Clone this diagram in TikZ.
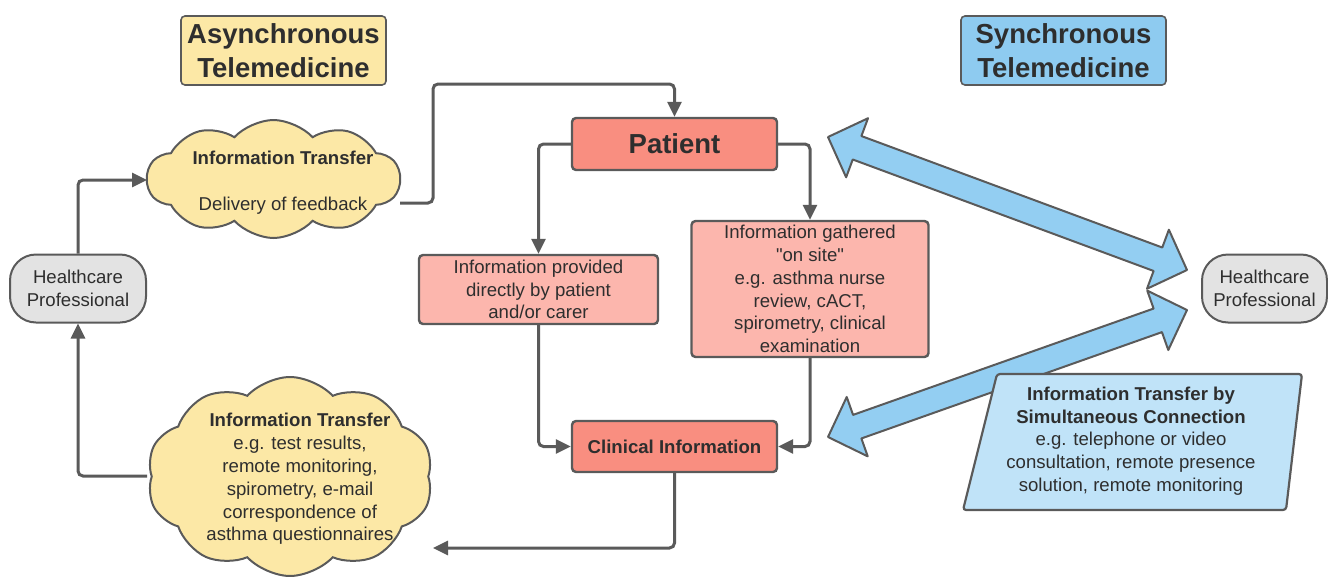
\documentclass[tikz,border=0pt]{standalone}
\usepackage{fontspec}
\setmainfont{Liberation Sans}
\usetikzlibrary{arrows.meta,shapes.symbols,calc}
\definecolor{ln}{HTML}{5A5A5A}
\definecolor{txt}{HTML}{2E2E2E}
\definecolor{ylw}{HTML}{FCE8A6}
\definecolor{bluet}{HTML}{8ECBF0}
\definecolor{bluear}{HTML}{93CEF2}
\definecolor{bluep}{HTML}{C0E3F8}
\definecolor{salmon}{HTML}{F98E80}
\definecolor{pinkbox}{HTML}{FCB6AD}
\definecolor{hpgray}{HTML}{E3E3E3}
\newcommand\BigDArrow[2]{%
  \draw[bigarrow]
    (#1)
    -- ($(#1)!31pt!(#2)!31.5pt!90:(#2)$)
    -- ($(#1)!31pt!(#2)!12.5pt!90:(#2)$)
    -- ($(#2)!31pt!(#1)!12.5pt!-90:(#1)$)
    -- ($(#2)!31pt!(#1)!31.5pt!-90:(#1)$)
    -- (#2)
    -- ($(#2)!31pt!(#1)!31.5pt!90:(#1)$)
    -- ($(#2)!31pt!(#1)!12.5pt!90:(#1)$)
    -- ($(#1)!31pt!(#2)!12.5pt!-90:(#2)$)
    -- ($(#1)!31pt!(#2)!31.5pt!-90:(#2)$)
    -- cycle;}
\begin{document}
\begin{tikzpicture}[x=1pt,y=-1pt,
  base/.style={font=\fontsize{18.6}{22.8}\selectfont, text=txt, align=center, inner sep=0pt},
  titlebox/.style={draw=ln, line width=1.6pt, rounded corners=4pt,
    font=\fontsize{27.5}{34}\selectfont\bfseries, text=txt, align=center,
    minimum width=205pt, minimum height=69pt, inner sep=0pt},
  redbox/.style={base, draw=ln, line width=2.4pt, rounded corners=4pt, fill=salmon},
  pinkrect/.style={base, draw=ln, line width=2.4pt, rounded corners=4pt, fill=pinkbox},
  hpbox/.style={base, draw=ln, line width=2pt, rounded corners=26pt, fill=hpgray,
    minimum height=68pt},
  cloudshape/.style={cloud, cloud puffs=10, cloud puff arc=95, cloud ignores aspect, draw=ln, fill=ylw,
    line width=2pt, inner sep=0pt},
  conn/.style={draw=ln, line width=3pt, rounded corners=5pt,
    -{Triangle[length=15pt,width=14pt]}},
  bigarrow/.style={draw=ln, line width=2pt, fill=bluear, line join=round}
]
\useasboundingbox (0,0) rectangle (1328,576);

% titles
\node[titlebox, fill=ylw] (async) at (283.5,50.5) {Asynchronous\\Telemedicine};
\node[titlebox, fill=bluet] (sync) at (1063.5,50.5) {Synchronous\\Telemedicine};

% clouds
\node[cloudshape, minimum width=253pt, minimum height=118pt] (topcloud) at (273.5,179) {};
\node[base] (toptxt) at (283,183) {\textbf{Information Transfer}\\[23pt]Delivery of feedback};
\node[cloudshape, minimum width=286pt, minimum height=199pt] (botcloud) at (290,476.5) {};
\node[base] (bottxt) at (300,479) {\textbf{Information Transfer}\\e.g. test results,\\remote monitoring,\\spirometry, e-mail\\correspondence of\\asthma questionnaires};

% healthcare professionals
\node[hpbox, minimum width=136pt] (hpl) at (78,288.5) {Healthcare\\Professional};
\node[hpbox, minimum width=125pt] (hpr) at (1264.5,288.5) {Healthcare\\Professional};

% central boxes
\node[redbox, minimum width=205pt, minimum height=52pt,
  font=\fontsize{27.5}{34}\selectfont\bfseries] (patient) at (674.5,144) {Patient};
\node[pinkrect, minimum width=239pt, minimum height=69pt] (prov) at (538.5,289.5)
  {Information provided\\directly by patient\\and/or carer};
\node[pinkrect, minimum width=237pt, minimum height=136pt] (gath) at (810,289)
  {Information gathered\\{\addfontfeature{Ligatures=TeXOff}"on site"}\\e.g. asthma nurse\\review, cACT,\\spirometry, clinical\\examination};
\node[redbox, minimum width=205pt, minimum height=51pt, font=\fontsize{18.6}{22.8}\selectfont\bfseries]
  (clin) at (674.5,446.5) {Clinical Information};

% cloud attach points
\coordinate (tcin) at (147,180);
\coordinate (tcout) at (400,203);
\coordinate (bcout) at (147,476);
\coordinate (bcin) at (433,548);

% connectors
\draw[conn] (hpl.north) |- (tcin);
\draw[conn] (bcout) -| (hpl.south);
\draw[conn] (tcout) -| (433,84) -| (patient.north);
\draw[conn] (patient.west) -| (prov.north);
\draw[conn] (patient.east) -| (gath.north);
\draw[conn] (prov.south) |- (clin.west);
\draw[conn] (gath.south) |- (clin.east);
\draw[conn] (clin.south) |- (bcin);

% synchronous big double arrows
\coordinate (a1s) at (828,137);
\coordinate (a1e) at (1187,270);
\coordinate (a2s) at (828,437);
\coordinate (a2e) at (1187,310);
\BigDArrow{a1s}{a1e}
\BigDArrow{a2s}{a2e}

% parallelogram
\draw[draw=ln, line width=2.2pt, fill=bluep, rounded corners=3pt]
  (997,374) -- (1302,374) -- (1286,510) -- (963,510) -- cycle;
\node[base] (sim) at (1131,441)
  {\textbf{Information Transfer by}\\\textbf{Simultaneous Connection}\\e.g. telephone or video\\consultation, remote presence\\solution, remote monitoring};
\end{tikzpicture}
\end{document}
